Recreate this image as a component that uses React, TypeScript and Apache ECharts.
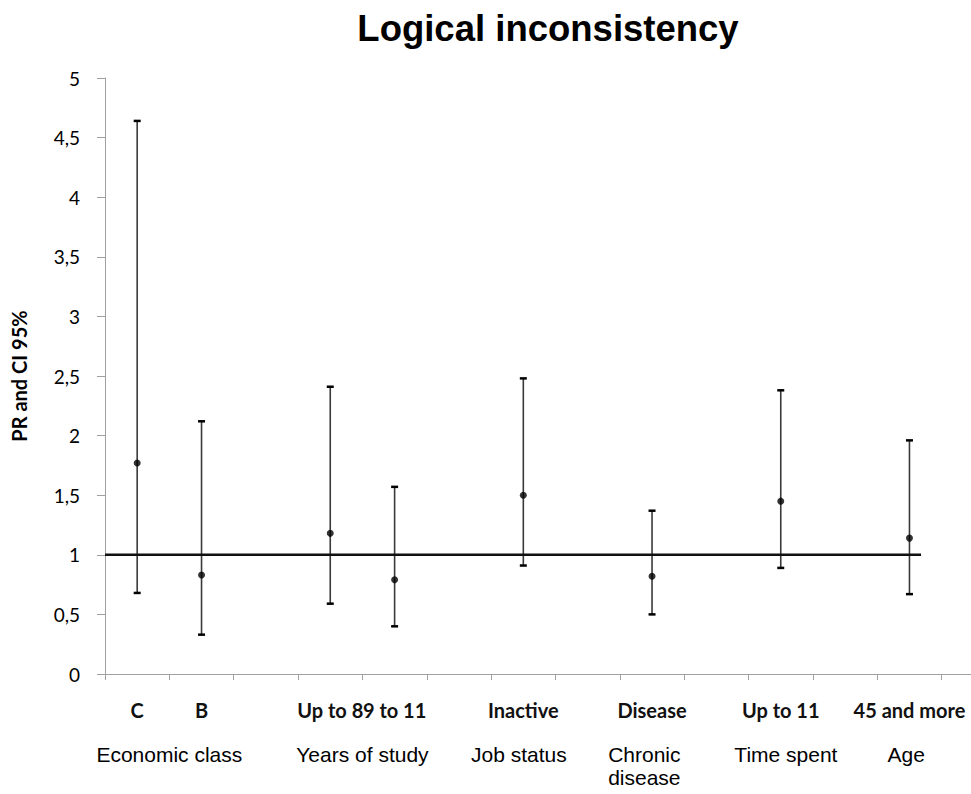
import React, { useEffect, useRef } from 'react';
import * as echarts from 'echarts';

// Category slots along the x axis ('' = empty slot between groups)
const categories = ['C', 'B', '', 'Up to 8', '9 to 11', '', 'Inactive', '', 'Disease', '', 'Up to 11', '', '45 and more', ''];
// Prevalence ratio (point estimate) and 95% CI bounds per slot
const prValues = [1.77, 0.83, null, 1.18, 0.79, null, 1.5, null, 0.82, null, 1.45, null, 1.14, null];
const lowerCI = [0.68, 0.33, null, 0.59, 0.4, null, 0.91, null, 0.5, null, 0.89, null, 0.67, null];
const upperCI = [4.64, 2.12, null, 2.41, 1.57, null, 2.48, null, 1.37, null, 2.38, null, 1.96, null];

// Group captions and their centre (in category-slot units)
const groupNames = ['Economic class', 'Years of study', 'Job status', 'Chronic\ndisease', 'Time spent', 'Age'];
const groupCenters = [0.5, 3.5, 5.93, 7.88, 10.08, 11.95];

// Reference line (PR = 1) and its extent in slot units
const referenceValue = 1;
const referenceSpan = [-0.5, 12.18];

const yMin = 0;
const yMax = 5;
const yInterval = 0.5;

export default function App() {
  const ref = useRef<HTMLDivElement>(null);

  useEffect(() => {
    if (!ref.current) return;
    const chart = echarts.init(ref.current, undefined, { renderer: 'svg' });

    const errData: number[][] = [];
    const ptData: number[][] = [];
    categories.forEach((_, i) => {
      if (prValues[i] != null) {
        ptData.push([i, prValues[i] as number]);
        errData.push([i, lowerCI[i] as number, upperCI[i] as number]);
      }
    });

    const option: any = {
      animation: false,
      backgroundColor: '#ffffff',
      title: {
        text: 'Logical inconsistency',
        left: 543,
        top: 5,
        textAlign: 'center',
        textStyle: {
          fontFamily: 'Liberation Sans, Arial, sans-serif',
          fontSize: 36.5,
          fontWeight: 'bold',
          color: '#000',
        },
      },
      grid: {
        left: 105,
        top: 78,
        width: 901,
        height: 596,
        containLabel: false,
        outerBoundsMode: 'none',
      },
      xAxis: [
        {
          type: 'category',
          data: categories,
          position: 'bottom',
          boundaryGap: true,
          axisLine: { show: true, onZero: false, lineStyle: { color: '#a0a0a0', width: 1 } },
          axisTick: { show: true, interval: 0, length: 6, lineStyle: { color: '#a0a0a0' } },
          axisLabel: {
            interval: 0,
            margin: 26,
            fontFamily: 'Lato, sans-serif',
            fontWeight: 'bold',
            fontSize: 20,
            color: '#111',
          },
          splitLine: { show: false },
        },
        {
          type: 'value',
          min: -0.5,
          max: 13.5,
          position: 'bottom',
          axisLine: { show: false, onZero: false },
          axisTick: { show: false },
          splitLine: { show: false },
          axisLabel: {
            show: true,
            customValues: groupCenters,
            margin: 69,
            fontFamily: 'Liberation Sans, Arial, sans-serif',
            fontSize: 21,
            lineHeight: 23,
            color: '#000',
            formatter: (v: number) => {
              const idx = groupCenters.findIndex((c) => Math.abs(c - v) < 1e-6);
              return idx >= 0 ? groupNames[idx] : '';
            },
          },
        },
      ],
      yAxis: {
        type: 'value',
        min: yMin,
        max: yMax,
        interval: yInterval,
        name: 'PR and CI 95%',
        nameLocation: 'middle',
        nameRotate: 90,
        nameGap: 76,
        nameTextStyle: {
          fontFamily: 'Lato, sans-serif',
          fontWeight: 'bold',
          fontSize: 20,
          color: '#000',
        },
        axisLine: { show: true, onZero: false, lineStyle: { color: '#a0a0a0', width: 1 } },
        axisTick: { show: true, length: 8, lineStyle: { color: '#a0a0a0' } },
        splitLine: { show: false },
        axisLabel: {
          margin: 25,
          fontFamily: 'Lato, sans-serif',
          fontSize: 19,
          color: '#000',
          formatter: (v: number) => String(v).replace('.', ','),
        },
      },
      series: [
        {
          name: 'CI',
          type: 'custom',
          xAxisIndex: 0,
          yAxisIndex: 0,
          data: errData,
          renderItem: (params: any, api: any) => {
            const x = api.value(0);
            const lo = api.coord([x, api.value(1)]);
            const hi = api.coord([x, api.value(2)]);
            const cap = 3.5;
            return {
              type: 'group',
              children: [
                { type: 'line', shape: { x1: lo[0], y1: lo[1], x2: hi[0], y2: hi[1] }, style: { stroke: '#3a3a3a', lineWidth: 1.6 } },
                { type: 'line', shape: { x1: lo[0] - cap, y1: lo[1], x2: lo[0] + cap, y2: lo[1] }, style: { stroke: '#000', lineWidth: 2.5 } },
                { type: 'line', shape: { x1: hi[0] - cap, y1: hi[1], x2: hi[0] + cap, y2: hi[1] }, style: { stroke: '#000', lineWidth: 2.5 } },
              ],
            };
          },
          z: 3,
        },
        {
          name: 'Reference',
          type: 'line',
          xAxisIndex: 1,
          yAxisIndex: 0,
          data: [
            [referenceSpan[0], referenceValue],
            [referenceSpan[1], referenceValue],
          ],
          symbol: 'none',
          lineStyle: { color: '#111', width: 2.5 },
          z: 4,
        },
        {
          name: 'PR',
          type: 'scatter',
          xAxisIndex: 0,
          yAxisIndex: 0,
          data: ptData,
          symbol: 'circle',
          symbolSize: 7,
          itemStyle: { color: '#000' },
          z: 5,
        },
      ],
    };

    chart.setOption(option);
    return () => {
      chart.dispose();
    };
  }, []);

  return (
    <div
      ref={ref}
      style={{ position: 'fixed', left: 0, top: 0, width: 971, height: 794, background: '#fff' }}
    />
  );
}
